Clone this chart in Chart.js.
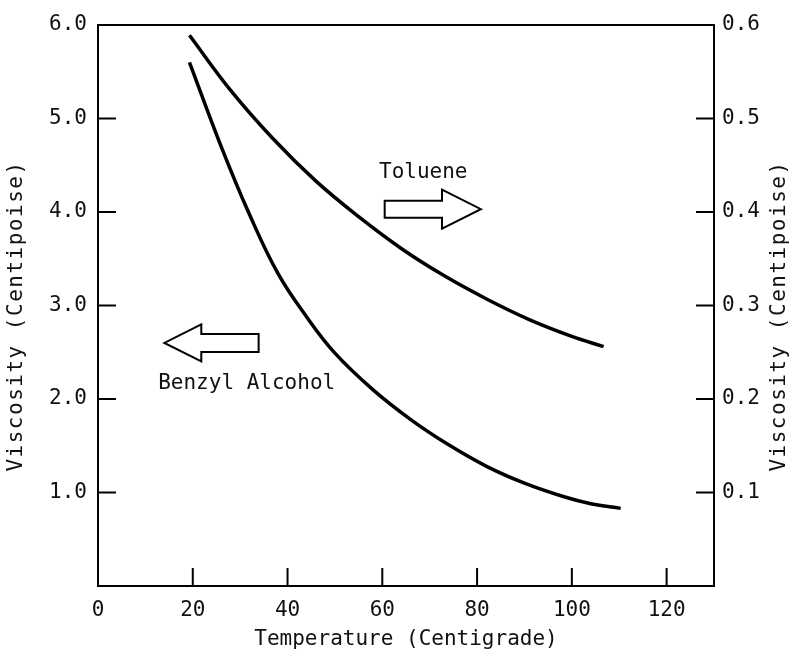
<!DOCTYPE html>
<html>
<head>
<meta charset="utf-8">
<script src="https://cdn.jsdelivr.net/npm/chart.js@4.4.0/dist/chart.umd.min.js"></script>
<style>
  html, body { margin: 0; padding: 0; background: #fff; }
</style>
</head>
<body>
<canvas id="viscosity-chart" width="795" height="652"></canvas>
<script>
// values
const benzylTemp = [19.3, 26, 32, 38, 44, 50, 58, 66, 74, 82, 90, 98, 104, 110.3];
const benzylVisc = [5.60, 4.70, 3.97, 3.34, 2.88, 2.49, 2.10, 1.78, 1.51, 1.28, 1.10, 0.96, 0.88, 0.83];

const tolueneTemp = [19.3, 28, 37, 46, 55, 64, 73, 82, 91, 100, 106.7];
const tolueneVisc = [0.589, 0.530, 0.478, 0.433, 0.395, 0.361, 0.332, 0.307, 0.285, 0.267, 0.256];

const tempTicks = [0, 20, 40, 60, 80, 100, 120];
const leftTicks = [0, 1, 2, 3, 4, 5, 6];
const rightTicks = [0, 0.1, 0.2, 0.3, 0.4, 0.5, 0.6];

const FONT = '"DejaVu Sans Mono", "Liberation Mono", monospace';
const INK = '#111';

// arrow annotations, in data units (temperature / left viscosity)
const arrows = [
    { tail: 60.5, neck: 72.6, tip: 80.8, y: 4.03, body: 8.5, head: 19.5 },
    { tail: 33.9, neck: 21.8, tip: 14.0, y: 2.60, body: 9, head: 18.5 }
];
const notes = [
    { text: 'Toluene', x: 59.3, y: 4.42 },
    { text: 'Benzyl Alcohol', x: 12.7, y: 2.17 }
];

const decorPlugin = {
    id: 'decor',
    afterDraw(chart) {
        const { ctx, chartArea: area, scales } = chart;
        const xs = scales.x, ys = scales.y, ys1 = scales.y1;
        ctx.save();
        ctx.strokeStyle = '#000';
        ctx.lineWidth = 2;

        // top frame
        ctx.beginPath();
        ctx.moveTo(area.left - 1, area.top);
        ctx.lineTo(area.right + 1, area.top);
        ctx.stroke();

        // inward tick marks
        const len = 18;
        ctx.beginPath();
        tempTicks.slice(1).forEach(v => {
            const px = xs.getPixelForValue(v);
            ctx.moveTo(px, area.bottom);
            ctx.lineTo(px, area.bottom - len);
        });
        leftTicks.slice(1, -1).forEach(v => {
            const py = ys.getPixelForValue(v);
            ctx.moveTo(area.left, py);
            ctx.lineTo(area.left + len, py);
        });
        rightTicks.slice(1, -1).forEach(v => {
            const py = ys1.getPixelForValue(v);
            ctx.moveTo(area.right, py);
            ctx.lineTo(area.right - len, py);
        });
        ctx.stroke();

        // arrows
        ctx.fillStyle = '#fff';
        arrows.forEach(a => {
            const tx = xs.getPixelForValue(a.tail);
            const nx = xs.getPixelForValue(a.neck);
            const px = xs.getPixelForValue(a.tip);
            const cy = ys.getPixelForValue(a.y);
            ctx.beginPath();
            ctx.moveTo(tx, cy - a.body);
            ctx.lineTo(nx, cy - a.body);
            ctx.lineTo(nx, cy - a.head);
            ctx.lineTo(px, cy);
            ctx.lineTo(nx, cy + a.head);
            ctx.lineTo(nx, cy + a.body);
            ctx.lineTo(tx, cy + a.body);
            ctx.closePath();
            ctx.fill();
            ctx.stroke();
        });

        // curve labels
        ctx.fillStyle = INK;
        ctx.font = '21px ' + FONT;
        ctx.textBaseline = 'middle';
        ctx.textAlign = 'left';
        notes.forEach(n => {
            ctx.fillText(n.text, xs.getPixelForValue(n.x), ys.getPixelForValue(n.y));
        });

        // vertical axis titles, both reading bottom to top
        ctx.textAlign = 'center';
        ctx.letterSpacing = '1.5px';
        [17, 780].forEach(cx => {
            ctx.save();
            ctx.translate(cx, 316);
            ctx.rotate(-Math.PI / 2);
            ctx.fillText('Viscosity (Centipoise)', 0, 0);
            ctx.restore();
        });
        ctx.restore();
    }
};

const tickFont = { family: FONT, size: 21 };

new Chart(document.getElementById('viscosity-chart'), {
    type: 'line',
    data: {
        datasets: [{
            label: 'Benzyl Alcohol',
            data: benzylTemp.map((t, i) => ({ x: t, y: benzylVisc[i] })),
            yAxisID: 'y',
            borderColor: '#000',
            borderWidth: 3.5,
            pointRadius: 0,
            fill: false,
            tension: 0.4
        }, {
            label: 'Toluene',
            data: tolueneTemp.map((t, i) => ({ x: t, y: tolueneVisc[i] })),
            yAxisID: 'y1',
            borderColor: '#000',
            borderWidth: 3.5,
            pointRadius: 0,
            fill: false,
            tension: 0.4
        }]
    },
    options: {
        responsive: false,
        animation: false,
        devicePixelRatio: 1,
        layout: { padding: { top: 25, left: 0, right: 0, bottom: 0 } },
        plugins: {
            legend: { display: false },
            tooltip: { enabled: false }
        },
        scales: {
            x: {
                type: 'linear',
                position: 'bottom',
                min: 0,
                max: 130,
                grid: { display: false, drawTicks: false },
                border: { display: true, color: '#000', width: 2 },
                afterBuildTicks: s => { s.ticks = tempTicks.map(v => ({ value: v })); },
                afterFit: s => { s.height = 66; },
                ticks: { font: tickFont, color: INK, padding: 12, maxRotation: 0, callback: v => String(v) },
                title: {
                    display: true,
                    text: 'Temperature (Centigrade)',
                    font: { family: FONT, size: 21 },
                    color: INK,
                    padding: { top: 0, bottom: 0 }
                }
            },
            y: {
                type: 'linear',
                position: 'left',
                min: 0,
                max: 6,
                grid: { display: false, drawTicks: false },
                border: { display: true, color: '#000', width: 2 },
                afterBuildTicks: s => { s.ticks = leftTicks.map(v => ({ value: v })); },
                afterFit: s => { s.width = 98; },
                ticks: { font: tickFont, color: INK, padding: 11, callback: v => v === 0 ? '' : v.toFixed(1) }
            },
            y1: {
                type: 'linear',
                position: 'right',
                min: 0,
                max: 0.6,
                grid: { display: false, drawTicks: false },
                border: { display: true, color: '#000', width: 2 },
                afterBuildTicks: s => { s.ticks = rightTicks.map(v => ({ value: v })); },
                afterFit: s => { s.width = 81; },
                ticks: { font: tickFont, color: INK, padding: 8, callback: v => v === 0 ? '' : v.toFixed(1) }
            }
        }
    },
    plugins: [decorPlugin]
});
</script>
</body>
</html>
